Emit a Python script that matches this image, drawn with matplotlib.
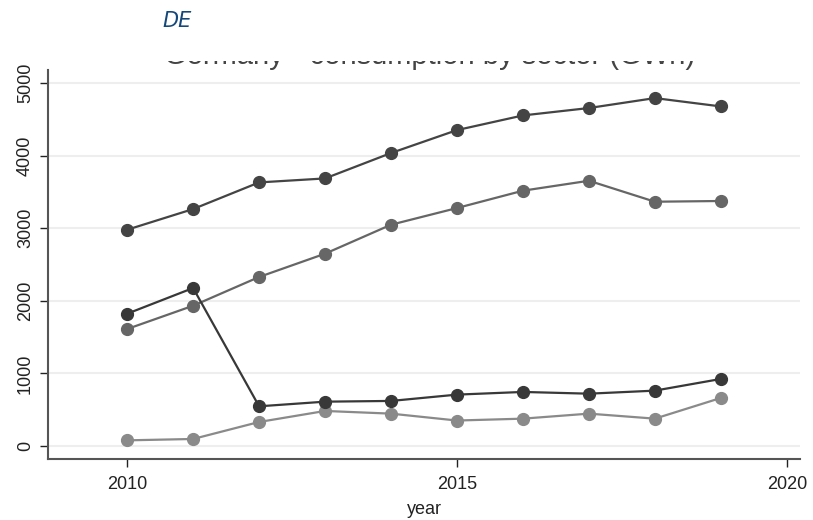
import matplotlib
matplotlib.use("Agg")
import matplotlib.pyplot as plt
from matplotlib.patches import Rectangle

years = [2010, 2011, 2012, 2013, 2014, 2015, 2016, 2017, 2018, 2019]
series_a = [2979, 3264, 3631, 3686, 4036, 4352, 4554, 4656, 4793, 4678]
series_b = [1611, 1932, 2328, 2649, 3048, 3278, 3517, 3654, 3365, 3375]
series_c = [1822, 2176, 546, 610, 620, 707, 744, 720, 762, 923]
series_d = [77, 96, 330, 482, 445, 350, 376, 445, 376, 661]
x_ticks = [2010, 2015, 2020]
y_ticks = [0, 1000, 2000, 3000, 4000, 5000]
title = "Germany - consumption by sector (GWh)"

plt.rcParams['font.family'] = ['Liberation Sans', 'DejaVu Sans']

W, H = 813, 520
fig = plt.figure(figsize=(W / 100, H / 100), dpi=100)
ax = fig.add_axes([48 / W, (H - 459) / H, (800 - 48) / W, (459 - 70) / H])

styles = [
    (series_d, '#8a8a8a'),
    (series_b, '#666666'),
    (series_c, '#383838'),
    (series_a, '#444444'),
]
for vals, col in styles:
    ax.plot(years, vals, color=col, lw=1.6, marker='o', ms=8.5,
            markeredgecolor=col, markerfacecolor=col, zorder=3)

ax.set_xlim(2008.8, 2020.2)
ax.set_ylim(-180, 5180)
ax.set_xticks(x_ticks)
ax.set_yticks(y_ticks)
ax.set_yticklabels([str(v) for v in y_ticks], rotation=90, va='center')
ax.tick_params(axis='both', labelsize=13, colors='#222222', length=6, width=1,
               direction='out')
ax.tick_params(axis='y', pad=4)
ax.tick_params(axis='x', pad=6)
ax.grid(axis='y', color='#eeeeee', lw=1.5)
ax.set_axisbelow(True)
for s in ['top', 'right']:
    ax.spines[s].set_visible(False)
for s in ['left', 'bottom']:
    ax.spines[s].set_color('#555555')
    ax.spines[s].set_linewidth(1.5)
ax.set_xlabel('year', fontsize=13, color='#222222', labelpad=6)

# title, mostly hidden (cropped in the original)
fig.text(430 / W, 1 - 64 / H, title, ha='center', va='baseline',
         fontsize=21, color='#444444', zorder=2)
cover = Rectangle((0, 1 - 61 / H), 1, 61 / H, transform=fig.transFigure,
                  facecolor='white', edgecolor='none', zorder=5)
fig.add_artist(cover)

fig.text(162 / W, 1 - 21 / H, 'DE', ha='left', va='center', fontsize=15,
         style='italic', color='#14487a', family=['DejaVu Sans'], zorder=6)

fig.savefig('out.png', dpi=100)
